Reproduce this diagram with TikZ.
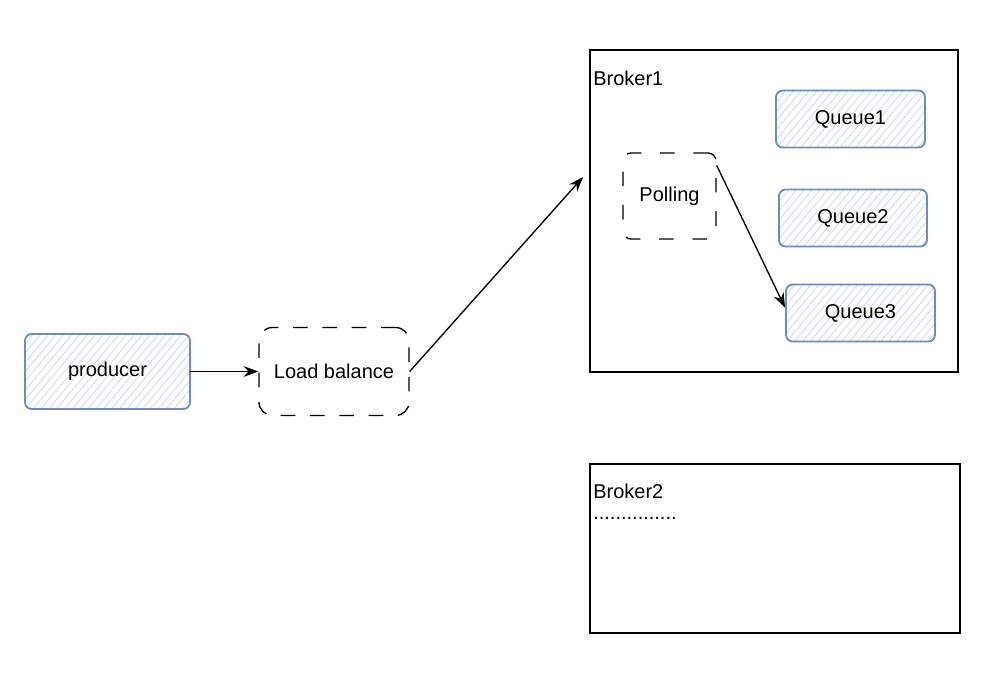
\documentclass[tikz,border=0pt]{standalone}
\usepackage{fontspec}
\setmainfont{Liberation Sans}
\usetikzlibrary{arrows.meta,patterns.meta}
\definecolor{qstroke}{HTML}{6C8EBF}
\definecolor{qhatch}{HTML}{B9CBEA}
\tikzset{
  txt/.style={font=\fontsize{15}{17}\selectfont},
  queue/.style={txt, draw=qstroke, line width=1.4pt, rounded corners=5pt, inner sep=0pt,
    pattern={Lines[angle=50,distance=4.5pt,line width=0.4pt]}, pattern color=qhatch},
  dashbox/.style={txt, draw, line width=1pt, dash pattern=on 11pt off 11pt, rounded corners=10pt, inner sep=0pt},
  broker/.style={draw, line width=1.4pt, inner sep=0pt},
  lbl/.style={txt, anchor=west, inner sep=0pt},
  conn/.style={-{Stealth[length=11pt,width=8pt]}, line width=1pt},
}
\begin{document}
\begin{tikzpicture}[x=0.75pt,y=-0.75pt]
\useasboundingbox (0,0) rectangle (1000,691);
% brokers
\node[broker, minimum width=276pt, minimum height=241.5pt] (broker1) at (774,211) {};
\node[lbl] (b1) at (593,78) {Broker1};
\node[broker, minimum width=277.5pt, minimum height=126.75pt] (broker2) at (775,548.5) {};
\node[lbl] (b2) at (593,491) {Broker2};
\node[lbl] (dots) at (593,518) {...............};
\coordinate (b1in) at (583,177);
% producer
\node[queue, minimum width=123.75pt, minimum height=56.25pt] (prod) at (107.5,371.5) {producer};
% load balance
\node[dashbox, minimum width=112.5pt, minimum height=66pt] (lb) at (334,371.5) {Load balance};
% polling
\node[dashbox, rounded corners=6pt, dash pattern=on 11pt off 14pt, minimum width=69.75pt, minimum height=64.5pt] (poll) at (669.5,196) {Polling};
% queues
\node[queue, minimum width=111.75pt, minimum height=42.75pt] (q1) at (850.5,119) {Queue1};
\node[queue, minimum width=111pt, minimum height=42.75pt] (q2) at (853,218) {Queue2};
\node[queue, minimum width=111.75pt, minimum height=42.75pt] (q3) at (860.5,313) {Queue3};
% connectors
\draw[conn] (prod.east) -- (lb.west);
\draw[conn] (lb.east) -- (b1in);
\draw[conn] ([yshift=-9.75pt]poll.north east) -- ([yshift=4pt]q3.west);
\end{tikzpicture}
\end{document}
